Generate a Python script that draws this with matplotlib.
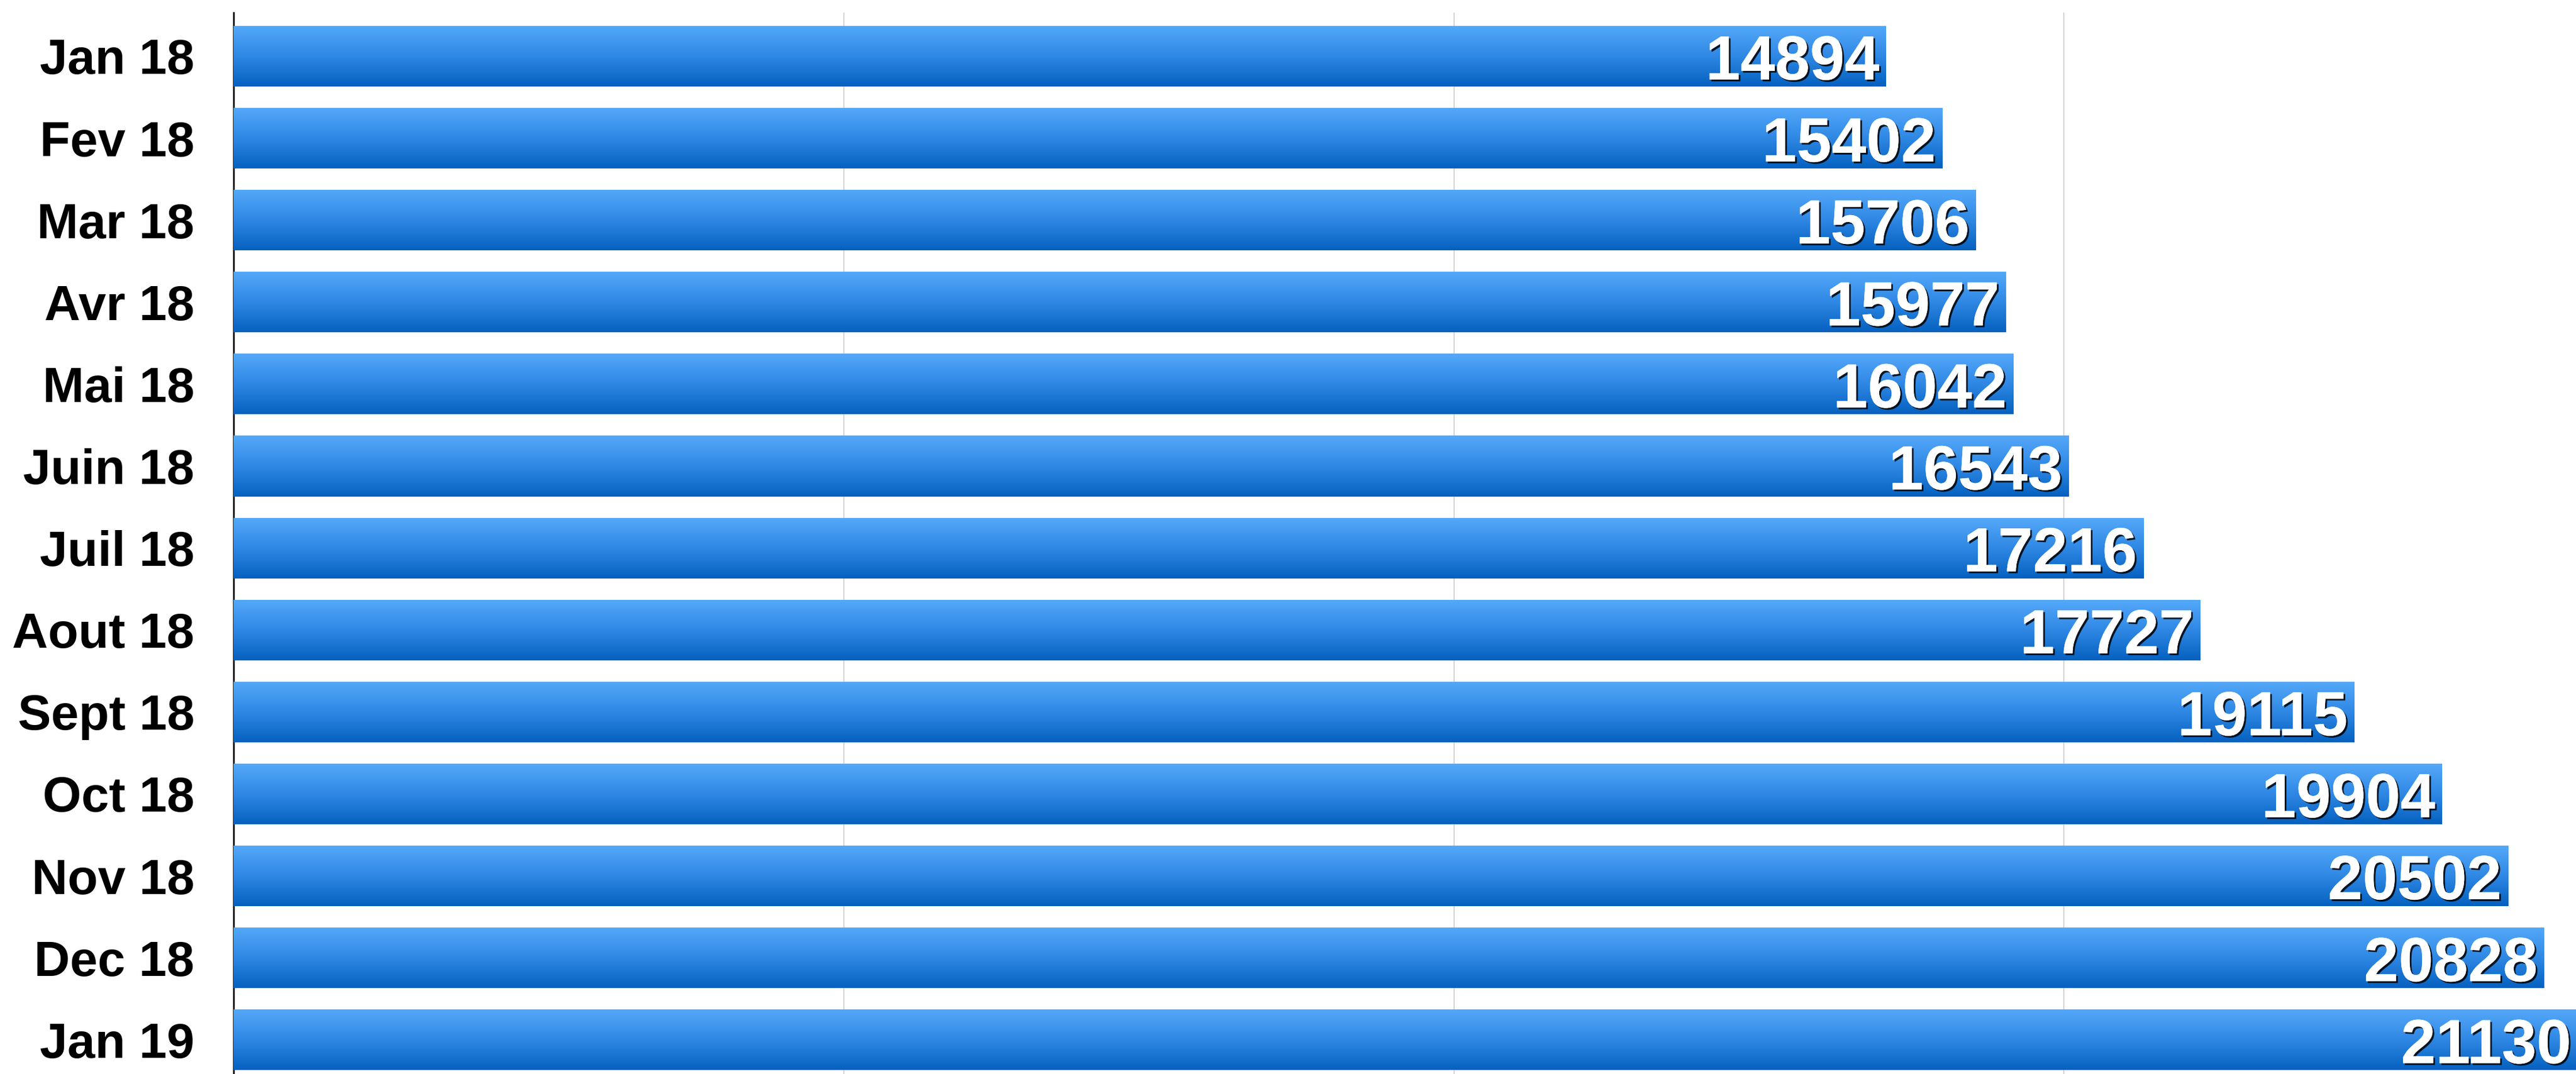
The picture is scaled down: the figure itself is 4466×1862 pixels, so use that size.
import numpy as np
import matplotlib.pyplot as plt
from matplotlib import patheffects
from matplotlib.colors import LinearSegmentedColormap

months = ["Jan 18", "Fev 18", "Mar 18", "Avr 18", "Mai 18", "Juin 18", "Juil 18",
          "Aout 18", "Sept 18", "Oct 18", "Nov 18", "Dec 18", "Jan 19"]
values = [14894, 15402, 15706, 15977, 16042, 16543, 17216,
          17727, 19115, 19904, 20502, 20828, 21130]
grid_ticks = [5500, 11000, 16500]

plt.rcParams['font.family'] = ['Liberation Sans', 'DejaVu Sans']

W, H = 4466, 1862
fig = plt.figure(figsize=(W / 100, H / 100), dpi=100)
ax = fig.add_axes([405 / W, 0, 1 - 405 / W, 1 - 22 / H])

y = np.arange(len(months))
bars = ax.barh(y, values, height=0.74, color='#2a86e0', zorder=2)

# vertical gradient on every bar
grad = np.linspace(0, 1, 256).reshape(-1, 1)
cmap = LinearSegmentedColormap.from_list('bar', ['#55a9fa', '#2f88e4', '#0560bf'])
for bar in bars:
    x0, y0 = bar.get_x(), bar.get_y()
    w, h = bar.get_width(), bar.get_height()
    im = ax.imshow(grad, cmap=cmap, extent=[x0, x0 + w, y0 + h, y0],
                   aspect='auto', zorder=3, interpolation='bilinear')
    im.set_clip_path(bar)

shadow = [patheffects.withSimplePatchShadow(offset=(2.2, -2.2), shadow_rgbFace='black', alpha=0.85),
          patheffects.Normal()]
for i, v in enumerate(values):
    ax.annotate(str(v), xy=(v, i + 0.285), xytext=(-8, 0), textcoords='offset points',
                ha='right', va='baseline', fontsize=78, fontweight='bold',
                color='white', zorder=5, path_effects=shadow, annotation_clip=False)

ax.set_xticks(grid_ticks)
ax.set_xticklabels([])
ax.tick_params(axis='x', length=0)
ax.grid(axis='x', color='#d2d2d2', linewidth=1.4, zorder=0)
ax.set_axisbelow(True)

ax.set_yticks(y)
ax.set_yticklabels(months, fontsize=62, fontweight='bold')
ax.tick_params(axis='y', length=0, pad=49)

ax.set_xlim(0, 21115)
ax.set_ylim(12.417, -0.531)

for s in ['top', 'right', 'bottom']:
    ax.spines[s].set_visible(False)
ax.spines['left'].set_linewidth(2)
ax.spines['left'].set_color('black')

fig.savefig('out.png', dpi=100)
